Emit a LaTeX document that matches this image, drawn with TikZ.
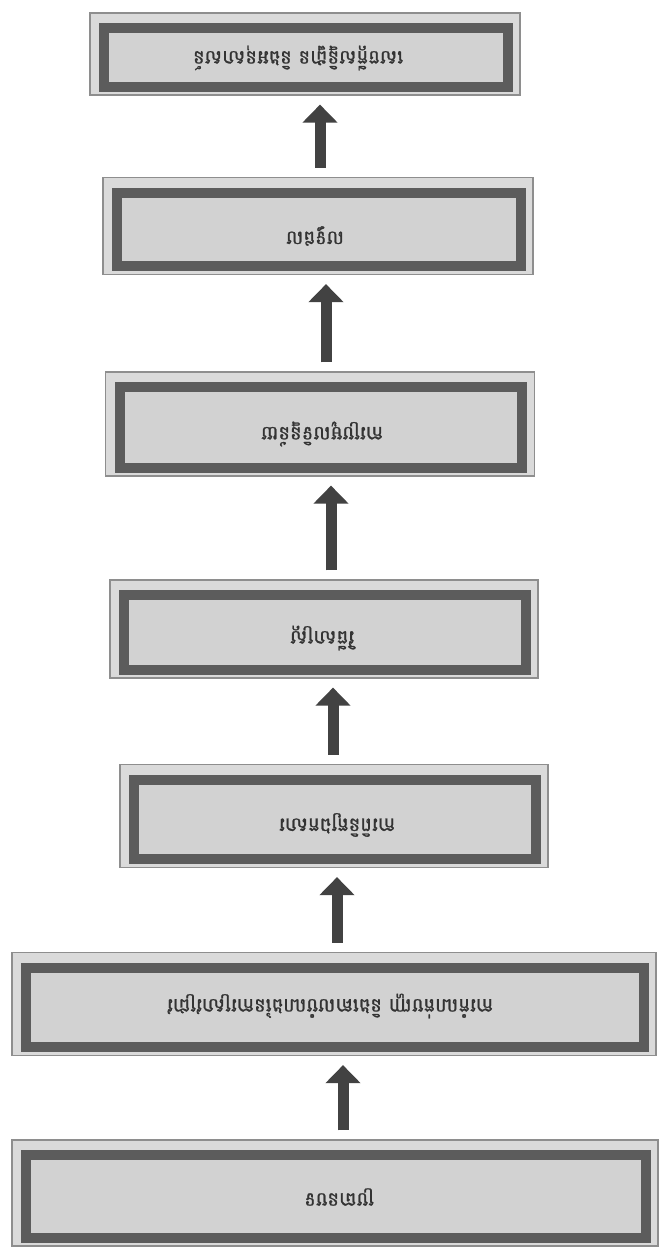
\documentclass[tikz,border=0pt]{standalone}
\usepackage{fontspec}
\newfontfamily\khmer[Script=Khmer,FakeBold=1.2]{Battambang}
\usetikzlibrary{arrows.meta,calc}
\definecolor{outerfill}{HTML}{DADADA}
\definecolor{outerline}{HTML}{8E8E8E}
\definecolor{framec}{HTML}{5C5C5C}
\definecolor{innerfill}{HTML}{D2D2D2}
\definecolor{ink}{HTML}{333333}
\definecolor{arrowc}{HTML}{424242}
\tikzset{
  stage/.style={draw=outerline, line width=1.2pt, fill=outerfill, inner sep=0pt},
  framebox/.style={draw=framec, line width=10pt, fill=innerfill},
  steplabel/.style={font=\khmer\fontsize{19.5}{22}\selectfont, text=ink, inner sep=0pt},
  blockarrow/.style={draw=arrowc, line width=11pt, -{Triangle[width=34pt,length=18pt]}, shorten <=9pt, shorten >=9pt}
}
% name, cx, cy, w, h, text, text dx, text dy
\newcommand\mkstage[8]{%
  \node[stage, minimum width=#4pt, minimum height=#5pt] (#1) at (#2,#3) {};
  \draw[framebox] ($(#1.north west)+(15pt,-16pt)$) rectangle ($(#1.south east)+(-13pt,9pt)$);
  \node[steplabel] (#1t) at ($(#1.center)+(#7,#8)$) {\rotatebox[origin=c]{180}{#6}};
}
\begin{document}
\begin{tikzpicture}[x=1pt,y=-1pt]
  \fill[white] (0,0) rectangle (660,1248);
  \useasboundingbox (0,0) rectangle (660,1248);
  \mkstage{s7}{305}{54}{430}{82}{សេចក្ដីសន្និដ្ឋាន និងអនុសាសន៍}{-7}{4}
  \mkstage{s6}{318}{226}{430}{97}{លទ្ធផល}{-3}{10}
  \mkstage{s5}{320}{424}{429}{104}{ការប្រមូលទិន្នន័យ}{2}{10}
  \mkstage{s4}{324}{629}{428}{98}{វិធីសាស្ត្រ}{-2}{9}
  \mkstage{s3}{334}{816}{428}{103}{ការពិនិត្យឯកសារ}{3}{9}
  \mkstage{s2}{334}{1004}{644}{103}{ការកំណត់បញ្ហា និងគោលបំណងនៃការស្រាវជ្រាវ}{-4}{2}
  \mkstage{s1}{335}{1193}{646}{106}{ប្រធានបទ}{4}{4}
  \draw[blockarrow] ($(s6.north)+(2,0)$) -- ($(s7.south)+(15,0)$);
  \draw[blockarrow] ($(s5.north)+(6,0)$) -- ($(s6.south)+(8,0)$);
  \draw[blockarrow] ($(s4.north)+(7,0)$) -- ($(s5.south)+(11,0)$);
  \draw[blockarrow] ($(s3.north)+(-1,0)$) -- ($(s4.south)+(9,0)$);
  \draw[blockarrow] ($(s2.north)+(3,0)$) -- ($(s3.south)+(3,0)$);
  \draw[blockarrow] ($(s1.north)+(8,0)$) -- ($(s2.south)+(9,0)$);
\end{tikzpicture}
\end{document}
